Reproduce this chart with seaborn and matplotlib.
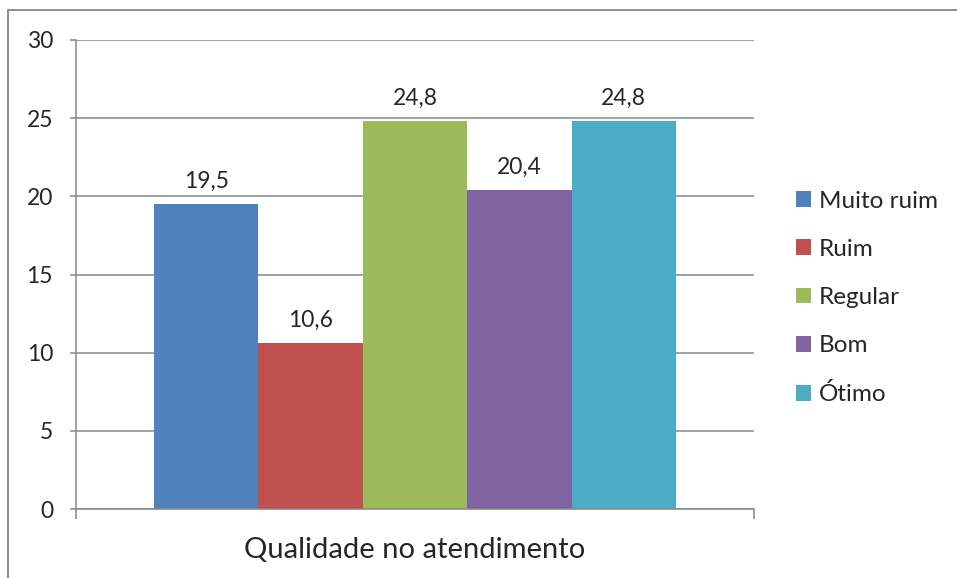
import matplotlib
matplotlib.use("Agg")
import matplotlib.pyplot as plt
import seaborn as sns
import pandas as pd
from matplotlib.patches import Rectangle, Patch
from matplotlib.ticker import FixedLocator

categories = ["Qualidade no atendimento"]
series = ["Muito ruim", "Ruim", "Regular", "Bom", "Ótimo"]
values = [19.5, 10.6, 24.8, 20.4, 24.8]
colors = ["#4F81BD", "#C0504D", "#9BBB59", "#8064A2", "#4BACC6"]
yticks = [0, 5, 10, 15, 20, 25, 30]

df = pd.DataFrame({"cat": categories * len(series), "serie": series, "valor": values})

sns.set_theme(style="white")
plt.rcParams["font.family"] = ["Lato", "DejaVu Sans"]

fig = plt.figure(figsize=(9.57, 5.78), dpi=100)
ax = fig.add_axes([76 / 957, 1 - 509 / 578, 678 / 957, 469 / 578])

sns.barplot(data=df, x="cat", y="valor", hue="serie", hue_order=series,
            palette=colors, width=0.77, dodge=True, saturation=1,
            edgecolor="none", linewidth=0, ax=ax, legend=False)

ax.set_xlim(-0.5, 0.5)
ax.set_ylim(0, 30)
ax.set_yticks(yticks)
ax.set_yticklabels([str(t) for t in yticks], fontsize=16.5)
ax.yaxis.grid(True, color="#868686", linewidth=1.1)
ax.set_axisbelow(True)
ax.set_xlabel("")
ax.set_ylabel("")

ax.set_xticks([0])
ax.set_xticklabels(categories, fontsize=21)
ax.xaxis.set_minor_locator(FixedLocator([-0.5, 0.5]))
ax.tick_params(axis="x", which="major", length=0, pad=20)
ax.tick_params(axis="x", which="minor", length=7.5, width=1.1, color="#868686", direction="out", bottom=True)
ax.tick_params(axis="y", length=4.5, width=1.1, color="#868686", direction="out", left=True, pad=12)

for side in ["top", "right"]:
    ax.spines[side].set_visible(False)
for side in ["left", "bottom"]:
    ax.spines[side].set_color("#868686")
    ax.spines[side].set_linewidth(1.1)

for cont, v in zip(ax.containers, values):
    ax.bar_label(cont, labels=[f"{v:.1f}".replace(".", ",")], padding=9, fontsize=16.5)

handles = [Patch(facecolor=c, edgecolor="none", label=s) for s, c in zip(series, colors)]
fig.legend(handles=handles, loc="center left", bbox_to_anchor=(796 / 957, 1 - 298 / 578),
           frameon=False, fontsize=17.5, handlelength=0.62, handleheight=0.62,
           labelspacing=1.12, handletextpad=0.33, borderaxespad=0, borderpad=0)

fig.patches.append(Rectangle((8 / 957, -0.05), 1.2, 1 - 10 / 578 + 0.05,
                             transform=fig.transFigure, fill=False,
                             edgecolor="#868686", linewidth=1.3, zorder=-1))

fig.savefig("out.png", dpi=100)
